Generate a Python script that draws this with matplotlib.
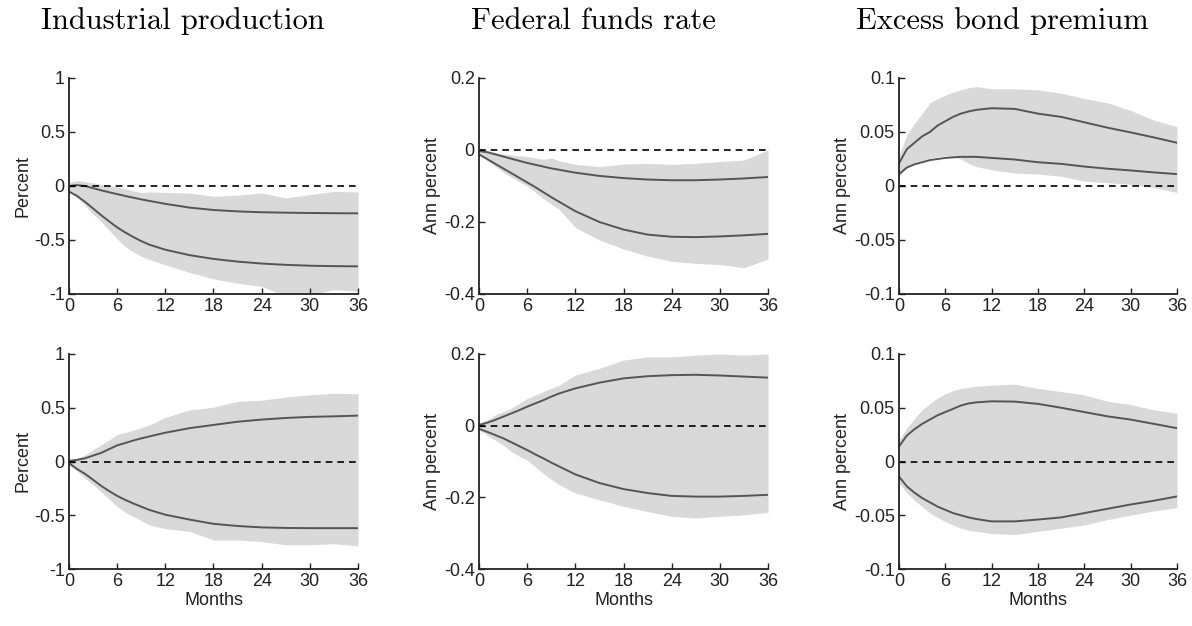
import numpy as np
import matplotlib
matplotlib.use("Agg")
import matplotlib.pyplot as plt

#%% DATA
months = [0, 1, 2, 3, 4, 5, 6, 7, 8, 9, 10, 12, 15, 18, 21, 24, 27, 30, 33, 36]

titles = ["Industrial production", "Federal funds rate", "Excess bond premium"]
ylabels = ["Percent", "Ann percent", "Ann percent"]
ylims = [(-1, 1), (-0.4, 0.2), (-0.1, 0.1)]
yticks = [[-1, -0.5, 0, 0.5, 1], [-0.4, -0.2, 0, 0.2], [-0.1, -0.05, 0, 0.05, 0.1]]
yticklabels = [["-1", "-0.5", "0", "0.5", "1"], ["-0.4", "-0.2", "0", "0.2"],
               ["-0.1", "-0.05", "0", "0.05", "0.1"]]
xticks = [0, 6, 12, 18, 24, 30, 36]

# top row: hi / lo lines, band upper / band lower
ip_top_hi = [0.0, 0.008, 0.0, -0.02, -0.04, -0.058, -0.075, -0.092, -0.108, -0.124, -0.138, -0.165, -0.20, -0.222, -0.235, -0.243, -0.247, -0.25, -0.252, -0.253]
ip_top_lo = [-0.052, -0.092, -0.147, -0.208, -0.27, -0.328, -0.383, -0.43, -0.472, -0.51, -0.543, -0.59, -0.64, -0.675, -0.70, -0.718, -0.73, -0.738, -0.742, -0.744]
ip_top_bu = [0.03, 0.05, 0.04, 0.03, 0.015, 0.005, -0.01, -0.025, -0.045, -0.06, -0.055, -0.06, -0.065, -0.095, -0.085, -0.065, -0.11, -0.08, -0.05, -0.055]
ip_top_bl = [-0.05, -0.105, -0.18, -0.26, -0.33, -0.41, -0.49, -0.56, -0.61, -0.65, -0.68, -0.73, -0.80, -0.86, -0.90, -0.93, -1.02, -1.01, -0.96, -0.975]

ffr_top_hi = [-0.003, -0.006, -0.012, -0.018, -0.024, -0.030, -0.036, -0.041, -0.046, -0.051, -0.055, -0.063, -0.072, -0.078, -0.082, -0.084, -0.084, -0.082, -0.079, -0.075]
ffr_top_lo = [-0.012, -0.025, -0.038, -0.051, -0.064, -0.077, -0.09, -0.103, -0.117, -0.131, -0.144, -0.17, -0.20, -0.221, -0.235, -0.241, -0.242, -0.24, -0.237, -0.233]
ffr_top_bu = [0.005, 0.0, -0.007, -0.011, -0.014, -0.016, -0.018, -0.022, -0.026, -0.022, -0.03, -0.04, -0.046, -0.039, -0.037, -0.04, -0.037, -0.032, -0.028, 0.0]
ffr_top_bl = [-0.012, -0.028, -0.045, -0.062, -0.075, -0.088, -0.10, -0.117, -0.135, -0.15, -0.165, -0.215, -0.25, -0.275, -0.295, -0.309, -0.315, -0.318, -0.327, -0.303]

ebp_top_hi = [0.021, 0.034, 0.040, 0.046, 0.050, 0.056, 0.060, 0.064, 0.067, 0.069, 0.0705, 0.072, 0.0714, 0.067, 0.064, 0.059, 0.054, 0.0496, 0.045, 0.040]
ebp_top_lo = [0.011, 0.017, 0.020, 0.022, 0.024, 0.025, 0.026, 0.0265, 0.027, 0.027, 0.027, 0.026, 0.0245, 0.022, 0.0205, 0.018, 0.016, 0.0144, 0.0126, 0.011]
ebp_top_bu = [0.028, 0.047, 0.058, 0.067, 0.077, 0.081, 0.084, 0.087, 0.089, 0.091, 0.092, 0.090, 0.090, 0.089, 0.086, 0.081, 0.077, 0.070, 0.061, 0.055]
ebp_top_bl = [0.009, 0.017, 0.021, 0.024, 0.026, 0.027, 0.028, 0.027, 0.025, 0.021, 0.018, 0.015, 0.012, 0.011, 0.009, 0.0045, 0.003, 0.0015, -0.0015, -0.006]

# bottom row
ip_bot_hi = [0.006, 0.015, 0.03, 0.055, 0.08, 0.115, 0.15, 0.172, 0.195, 0.215, 0.233, 0.268, 0.31, 0.34, 0.37, 0.39, 0.405, 0.415, 0.42, 0.427]
ip_bot_lo = [-0.015, -0.07, -0.115, -0.17, -0.226, -0.275, -0.32, -0.357, -0.39, -0.42, -0.45, -0.495, -0.54, -0.58, -0.60, -0.613, -0.618, -0.62, -0.62, -0.62]
ip_bot_bu = [0.015, 0.03, 0.06, 0.11, 0.155, 0.20, 0.25, 0.27, 0.29, 0.315, 0.34, 0.41, 0.48, 0.505, 0.56, 0.57, 0.60, 0.62, 0.635, 0.63]
ip_bot_bl = [-0.03, -0.09, -0.155, -0.215, -0.28, -0.35, -0.42, -0.47, -0.51, -0.55, -0.59, -0.625, -0.65, -0.73, -0.73, -0.745, -0.775, -0.775, -0.765, -0.785]

ffr_bot_hi = [0.002, 0.008, 0.016, 0.025, 0.034, 0.043, 0.053, 0.062, 0.071, 0.081, 0.09, 0.104, 0.12, 0.132, 0.138, 0.141, 0.142, 0.140, 0.137, 0.134]
ffr_bot_lo = [-0.009, -0.017, -0.026, -0.035, -0.046, -0.057, -0.068, -0.08, -0.091, -0.103, -0.114, -0.136, -0.16, -0.177, -0.188, -0.196, -0.198, -0.198, -0.196, -0.193]
ffr_bot_bu = [0.006, 0.016, 0.03, 0.039, 0.048, 0.062, 0.076, 0.085, 0.095, 0.104, 0.113, 0.141, 0.16, 0.183, 0.192, 0.192, 0.197, 0.20, 0.197, 0.20]
ffr_bot_bl = [-0.012, -0.026, -0.04, -0.054, -0.072, -0.085, -0.096, -0.115, -0.133, -0.15, -0.165, -0.188, -0.207, -0.225, -0.24, -0.253, -0.258, -0.253, -0.249, -0.242]

ebp_bot_hi = [0.014, 0.024, 0.030, 0.035, 0.039, 0.043, 0.046, 0.049, 0.052, 0.054, 0.055, 0.056, 0.0557, 0.0536, 0.050, 0.046, 0.042, 0.039, 0.035, 0.031]
ebp_bot_lo = [-0.014, -0.023, -0.029, -0.034, -0.038, -0.042, -0.045, -0.048, -0.050, -0.052, -0.0535, -0.0557, -0.0557, -0.054, -0.052, -0.048, -0.044, -0.040, -0.0365, -0.0325]
ebp_bot_bu = [0.020, 0.031, 0.040, 0.048, 0.054, 0.059, 0.063, 0.066, 0.068, 0.069, 0.070, 0.071, 0.072, 0.068, 0.065, 0.062, 0.056, 0.053, 0.048, 0.045]
ebp_bot_bl = [-0.020, -0.029, -0.036, -0.042, -0.048, -0.052, -0.056, -0.059, -0.062, -0.064, -0.065, -0.067, -0.068, -0.065, -0.062, -0.059, -0.054, -0.050, -0.046, -0.043]

panels = [
    [(ip_top_hi, ip_top_lo, ip_top_bu, ip_top_bl),
     (ffr_top_hi, ffr_top_lo, ffr_top_bu, ffr_top_bl),
     (ebp_top_hi, ebp_top_lo, ebp_top_bu, ebp_top_bl)],
    [(ip_bot_hi, ip_bot_lo, ip_bot_bu, ip_bot_bl),
     (ffr_bot_hi, ffr_bot_lo, ffr_bot_bu, ffr_bot_bl),
     (ebp_bot_hi, ebp_bot_lo, ebp_bot_bu, ebp_bot_bl)],
]

#%% FIGURE
plt.rcParams['font.family'] = ['Liberation Sans', 'DejaVu Sans']
W, H = 1192, 626
fig = plt.figure(figsize=(W / 100, H / 100), dpi=100)

# axes boxes in pixels: (left, width) per column, (top, bottom) per row
col_px = [(69, 289), (479, 289), (899, 278)]
row_px = [(78, 294), (354, 569)]

for r in range(2):
    for c in range(3):
        l, w = col_px[c]
        t, b = row_px[r]
        ax = fig.add_axes([l / W, 1 - b / H, w / W, (b - t) / H])
        hi, lo, bu, bl = panels[r][c]
        ax.fill_between(months, bl, bu, color='#d9d9d9', lw=0)
        ax.plot(months, hi, color='#555555', lw=1.4)
        ax.plot(months, lo, color='#555555', lw=1.4)
        ax.plot([0, 36], [0, 0], 'k--', lw=1.2, dashes=(4, 3))
        ax.set_xlim(0, 36)
        ax.set_ylim(*ylims[c])
        ax.set_xticks(xticks)
        ax.set_yticks(yticks[c])
        ax.set_yticklabels(yticklabels[c])
        ax.spines['top'].set_visible(False)
        ax.spines['right'].set_visible(False)
        for s in ['left', 'bottom']:
            ax.spines[s].set_linewidth(1.3)
            ax.spines[s].set_color('#222222')
        ax.tick_params(direction='in', length=4, width=1.0, labelsize=13,
                       colors='#222222', pad=3)
        ax.set_ylabel(ylabels[c], fontsize=13, color='#222222', labelpad=2)
        if r == 1:
            ax.set_xlabel("Months", fontsize=13, color='#222222', labelpad=1)

# column titles (serif, LaTeX-like)
title_x = [183, 593, 1002]
for tx, tt in zip(title_x, titles):
    fig.text(tx / W, 1 - 29 / H, tt, ha='center', va='baseline',
             fontsize=22, family=['cmr10', 'DejaVu Serif'], color='black')

fig.savefig("out.png", dpi=100)
